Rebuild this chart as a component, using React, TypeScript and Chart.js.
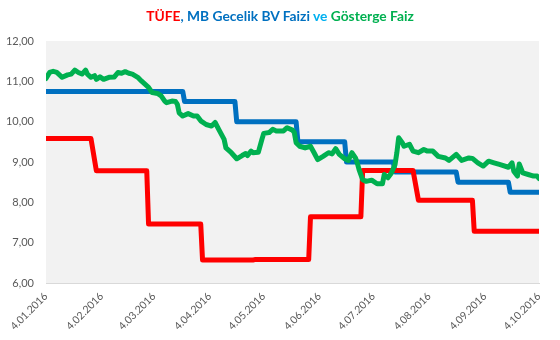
import React, { useEffect, useRef } from "react";
import { Chart, registerables } from "chart.js";

Chart.register(...registerables);

// X axis tick labels (date axis, day offsets from 4.01.2016)
const tickLabels = [
  "4.01.2016", "4.02.2016", "4.03.2016", "4.04.2016", "4.05.2016",
  "4.06.2016", "4.07.2016", "4.08.2016", "4.09.2016", "4.10.2016",
];

// TÜFE (red) – monthly levels, with start/end day of each level
const tufeLevels = [9.58, 8.78, 7.46, 6.57, 6.58, 7.64, 8.79, 8.05, 7.28];
const tufeStartDays = [0, 28, 57, 87, 116, 147, 176, 207, 238];
const tufeEndDays = [25, 56, 86, 115, 146, 175, 204, 237, 274];

// MB Gecelik BV Faizi (blue)
const mbRates = [10.75, 10.5, 10.0, 9.5, 9.0, 8.75, 8.5, 8.25];
const mbStartDays = [0, 77, 106, 140, 167, 194, 229, 258];
const mbEndDays = [76, 105, 139, 166, 193, 228, 257, 274];

// Gösterge Faiz (green)
const benchDays = [
  0, 2, 4, 6, 9, 12, 14, 16, 18, 20, 22, 23, 25, 27, 28, 30, 32, 35, 38, 40,
  42, 44, 46, 48, 51, 53, 55, 57, 59, 62, 64, 66, 67, 70, 72, 73, 74, 76, 79, 82,
  84, 86, 89, 92, 94, 96, 99, 100, 103, 106, 109, 111, 112, 114, 115, 118, 120, 121, 124, 126,
  128, 132, 134, 137, 138, 139, 141, 144, 147, 149, 151, 154, 157, 159, 161, 163, 166, 168, 170, 172,
  173, 174, 176, 178, 181, 184, 187, 188, 190, 192, 194, 195, 196, 198, 199, 202, 204, 207, 210, 212,
  215, 218, 222, 224, 228, 231, 235, 237, 240, 243, 246, 249, 252, 257, 259, 260, 262, 263, 265, 268,
  271, 273, 274,
];
const benchValues = [
  11.07, 11.22, 11.25, 11.22, 11.1, 11.16, 11.18, 11.28, 11.22, 11.18, 11.28, 11.18, 11.1, 11.14, 11.05, 11.11, 11.05, 11.1, 11.11, 11.22,
  11.2, 11.24, 11.2, 11.18, 11.1, 11.01, 10.93, 10.85, 10.72, 10.7, 10.64, 10.51, 10.47, 10.51, 10.5, 10.43, 10.22, 10.14, 10.2, 10.14,
  10.14, 10.02, 9.93, 9.89, 9.98, 9.81, 9.56, 9.35, 9.23, 9.08, 9.16, 9.21, 9.16, 9.27, 9.23, 9.24, 9.56, 9.71, 9.73, 9.81,
  9.77, 9.77, 9.85, 9.79, 9.73, 9.48, 9.39, 9.35, 9.39, 9.23, 9.06, 9.14, 9.23, 9.2, 9.33, 9.19, 9.08, 9.04, 9.23, 9.1,
  8.98, 8.81, 8.56, 8.52, 8.55, 8.46, 8.46, 8.69, 8.61, 8.73, 8.94, 9.23, 9.6, 9.48, 9.39, 9.44, 9.27, 9.23, 9.31, 9.27,
  9.27, 9.14, 9.1, 9.04, 9.19, 9.04, 9.1, 9.09, 8.98, 8.9, 9.02, 8.98, 8.94, 8.87, 8.98, 8.77, 8.65, 8.95, 8.73, 8.69,
  8.65, 8.65, 8.59,
];

const yMin = 6;
const yMax = 12;

const BASE = Date.UTC(2016, 0, 4);
function dayOffset(label: string): number {
  const [d, m, y] = label.split(".").map(Number);
  return Math.round((Date.UTC(y, m - 1, d) - BASE) / 86400000);
}
const tickDays = tickLabels.map(dayOffset);

function stepPoints(starts: number[], ends: number[], levels: number[]) {
  const pts: { x: number; y: number }[] = [];
  levels.forEach((v, i) => {
    pts.push({ x: starts[i], y: v });
    pts.push({ x: ends[i], y: v });
  });
  return pts;
}

const plotBg = {
  id: "plotBg",
  beforeDraw(chart: any) {
    const { ctx, chartArea } = chart;
    if (!chartArea) return;
    ctx.save();
    ctx.fillStyle = "#F2F2F2";
    ctx.fillRect(chartArea.left, chartArea.top, chartArea.right - chartArea.left, chartArea.bottom - chartArea.top);
    ctx.restore();
  },
};

const FONT = "Lato, 'Open Sans', sans-serif";

export default function App() {
  const ref = useRef<HTMLCanvasElement | null>(null);

  useEffect(() => {
    if (!ref.current) return;
    const chart = new Chart(ref.current, {
      type: "line",
      data: {
        datasets: [
          {
            label: "Gösterge Faiz",
            data: benchDays.map((d, i) => ({ x: d, y: benchValues[i] })),
            borderColor: "#00B050",
            order: 1,
          },
          {
            label: "TÜFE",
            data: stepPoints(tufeStartDays, tufeEndDays, tufeLevels),
            borderColor: "#FF0000",
            order: 2,
          },
          {
            label: "MB Gecelik BV Faizi",
            data: stepPoints(mbStartDays, mbEndDays, mbRates),
            borderColor: "#0070C0",
            order: 3,
          },
        ],
      },
      options: {
        animation: false,
        responsive: false,
        maintainAspectRatio: false,
        layout: { padding: { left: 0, right: 21, top: 41, bottom: 0 } },
        elements: {
          point: { radius: 0 },
          line: { borderWidth: 5, borderCapStyle: "round", borderJoinStyle: "round", tension: 0, fill: false },
        },
        plugins: {
          legend: { display: false },
          tooltip: { enabled: false },
          title: { display: false },
        },
        scales: {
          x: {
            type: "linear",
            min: tickDays[0],
            max: tickDays[tickDays.length - 1],
            grid: { display: false, drawTicks: false },
            border: { display: true, color: "#D9D9D9", width: 1 },
            afterBuildTicks: (s: any) => {
              s.ticks = tickDays.map((v) => ({ value: v }));
            },
            afterFit: (s: any) => {
              s.height = 57;
            },
            ticks: {
              autoSkip: false,
              minRotation: 45,
              maxRotation: 45,
              padding: 7,
              color: "#595959",
              font: { family: FONT, size: 10.5 },
              callback: (v: any) => {
                const i = tickDays.indexOf(Number(v));
                return i >= 0 ? tickLabels[i] : "";
              },
            },
          },
          y: {
            min: yMin,
            max: yMax,
            grid: { display: false, drawTicks: false },
            border: { display: false },
            afterFit: (s: any) => {
              s.width = 46;
            },
            ticks: {
              stepSize: 1,
              padding: 12,
              color: "#595959",
              font: { family: FONT, size: 11 },
              callback: (v: any) => Number(v).toFixed(2).replace(".", ","),
            },
          },
        },
      },
      plugins: [plotBg],
    });
    return () => chart.destroy();
  }, []);

  return (
    <div style={{ position: "absolute", left: 0, top: 0, width: 560, height: 340, background: "#FFFFFF" }}>
      <div
        style={{
          position: "absolute",
          left: 0,
          top: 8,
          width: 560,
          textAlign: "center",
          fontFamily: FONT,
          fontWeight: 700,
          fontSize: 13.8,
          lineHeight: "16px",
          whiteSpace: "nowrap",
        }}
      >
        <span style={{ color: "#FF0000" }}>TÜFE</span>
        <span style={{ color: "#0070C0" }}>, MB Gecelik BV Faizi </span>
        <span style={{ color: "#00B0F0" }}>ve </span>
        <span style={{ color: "#00B050" }}>Gösterge Faiz</span>
      </div>
      <canvas ref={ref} width={560} height={340} style={{ display: "block" }} />
    </div>
  );
}
